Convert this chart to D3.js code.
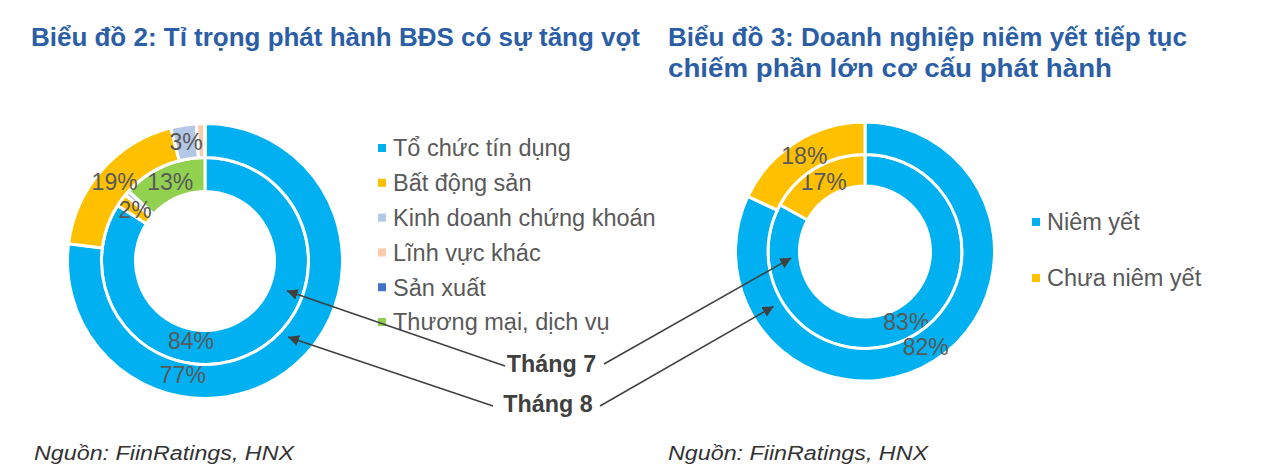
<!DOCTYPE html>
<html><head><meta charset="utf-8">
<script src="https://cdn.jsdelivr.net/npm/d3@7/dist/d3.min.js"></script>
<style>
body{margin:0;background:#fff;}
svg{display:block;font-family:"Liberation Sans",Arial,sans-serif;}
</style></head>
<body><svg id="c" width="1267" height="472"></svg>
<script>
// ---------- data ----------
const sectorCategories = ["Tổ chức tín dụng","Bất động sản","Kinh doanh chứng khoán","Lĩnh vực khác","Sản xuất","Thương mại, dịch vụ"];
const sectorJul = [84, 2, 0.8, 0, 0, 13.2];   // Tháng 7 (inner ring)
const sectorAug = [77, 19, 3, 1, 0, 0];       // Tháng 8 (outer ring)
const sectorLabelsJul = ["84%", "2%", "", "", "", "13%"];
const sectorLabelsAug = ["77%", "19%", "3%", "", "", ""];

const listCategories = ["Niêm yết","Chưa niêm yết"];
const listJul = [83, 17];  // inner ring
const listAug = [82, 18];  // outer ring
const listLabelsJul = ["83%", "17%"];
const listLabelsAug = ["82%", "18%"];

const monthLabels = ["Tháng 7", "Tháng 8"];
const titles = ["Biểu đồ 2: Tỉ trọng phát hành BĐS có sự tăng vọt",
  ["Biểu đồ 3: Doanh nghiệp niêm yết tiếp tục", "chiếm phần lớn cơ cấu phát hành"]];
const sourceText = "Nguồn: FiinRatings, HNX";

// ---------- styles / layout ----------
const sectorColors = ["#00B0F0","#FFC000","#B4C7E7","#F8CBAD","#4472C4","#92D050"];
const listColors = ["#00B0F0","#FFC000"];
const titleColor = "#2C5EA6";
const labelColor = "#595959";
const darkColor = "#404040";

const svg = d3.select("#c");

function donut(cfg){
  const g = svg.append("g").attr("transform", `translate(${cfg.cx},${cfg.cy})`);
  const pie = d3.pie().sort(null).value(d => d);
  const rings = [
    {vals: cfg.inner, labels: cfg.innerLabels, r0: cfg.r[0], r1: cfg.r[1], key:"inner"},
    {vals: cfg.outer, labels: cfg.outerLabels, r0: cfg.r[1], r1: cfg.r[2], key:"outer"}
  ];
  rings.forEach(ring => {
    const arcs = pie(ring.vals);
    const arc = d3.arc().innerRadius(ring.r0).outerRadius(ring.r1);
    g.append("g").selectAll("path").data(arcs).join("path")
      .attr("d", arc)
      .attr("fill", (d,i) => cfg.colors[i])
      .attr("stroke", "#fff").attr("stroke-width", 3)
      .attr("stroke-linejoin", "miter");
    const rm = (ring.r0 + ring.r1) / 2;
    g.append("g").selectAll("text").data(arcs).join("text")
      .filter((d,i) => ring.labels[i])
      .each(function(d){
        const i = d.index;
        const ov = cfg.labelOverride && cfg.labelOverride[ring.key] && cfg.labelOverride[ring.key][i];
        let a = (d.startAngle + d.endAngle) / 2, r = rm;
        if (ov){ a = ov.angle * Math.PI/180; r = ov.r; }
        d3.select(this)
          .attr("x", r * Math.sin(a))
          .attr("y", -r * Math.cos(a))
          .attr("dy", "0.36em")
          .attr("text-anchor", "middle")
          .attr("font-size", 23)
          .attr("fill", labelColor)
          .text(ring.labels[i]);
      });
  });
  return g;
}

const c2 = {cx:205, cy:261, r:[69.5,103.5,137.5]};
const c3 = {cx:865, cy:251.5, r:[65.5,97,129.5]};

donut(Object.assign({}, c2, {inner: sectorJul, outer: sectorAug, innerLabels: sectorLabelsJul, outerLabels: sectorLabelsAug,
  colors: sectorColors,
  labelOverride: {inner: {0: {angle:190, r:81}}, outer: {0: {angle:191, r:116}}}}));
donut(Object.assign({}, c3, {inner: listJul, outer: listAug, innerLabels: listLabelsJul, outerLabels: listLabelsAug,
  colors: listColors}));

// ---------- titles ----------
svg.append("text").attr("x", 31).attr("y", 46)
  .attr("font-size", 25).attr("font-weight", "bold").attr("fill", titleColor)
  .attr("textLength", 609).attr("lengthAdjust", "spacingAndGlyphs")
  .text(titles[0]);
const t3len = [519, 444];
titles[1].forEach((t, i) => {
  svg.append("text").attr("x", 668).attr("y", 46 + i * 31)
    .attr("font-size", 25).attr("font-weight", "bold").attr("fill", titleColor)
    .attr("textLength", t3len[i]).attr("lengthAdjust", "spacingAndGlyphs")
    .text(t);
});

// ---------- legends ----------
function legend(items, colors, x, y0, step){
  const lg = svg.append("g");
  items.forEach((t, i) => {
    const y = y0 + i * step;
    lg.append("rect").attr("x", x).attr("y", y - 4).attr("width", 8).attr("height", 8).attr("fill", colors[i]);
    lg.append("text").attr("x", x + 15).attr("y", y).attr("dy", "0.36em")
      .attr("font-size", 23.5).attr("fill", labelColor).text(t);
  });
}
legend(sectorCategories, sectorColors, 378, 148, 34.8);
legend(listCategories, listColors, 1032, 222, 56);

// ---------- month annotations with arrows ----------
svg.append("defs").append("marker").attr("id", "ah")
  .attr("viewBox", "0 0 10 10").attr("refX", 10).attr("refY", 5)
  .attr("markerWidth", 11).attr("markerHeight", 11).attr("markerUnits", "userSpaceOnUse")
  .attr("orient", "auto")
  .append("path").attr("d", "M0,0 L10,5 L0,10 Z").attr("fill", darkColor);

function polar(c, angleDeg, r){
  const a = angleDeg * Math.PI / 180;
  return [c.cx + r * Math.sin(a), c.cy - r * Math.cos(a)];
}
const annos = [
  {text: monthLabels[0], x: 551.5, y: 372, from: [[505,366],[604,364]], to: [polar(c2,110,87), polar(c3,265,74)]},
  {text: monthLabels[1], x: 548, y: 412, from: [[493,406],[600,406]], to: [polar(c2,132.5,112.5), polar(c3,239,106.6)]}
];
annos.forEach(a => {
  svg.append("text").attr("x", a.x).attr("y", a.y).attr("text-anchor", "middle")
    .attr("font-size", 23.3).attr("font-weight", "bold").attr("fill", darkColor).text(a.text);
  a.from.forEach((f, i) => {
    svg.append("line").attr("x1", f[0]).attr("y1", f[1]).attr("x2", a.to[i][0]).attr("y2", a.to[i][1])
      .attr("stroke", darkColor).attr("stroke-width", 1.5).attr("marker-end", "url(#ah)");
  });
});

// ---------- sources ----------
[34, 668].forEach(x => {
  svg.append("text").attr("x", x).attr("y", 460).attr("font-size", 20).attr("font-style", "italic")
    .attr("fill", "#333").attr("textLength", 260).attr("lengthAdjust", "spacingAndGlyphs").text(sourceText);
});
</script></body></html>
